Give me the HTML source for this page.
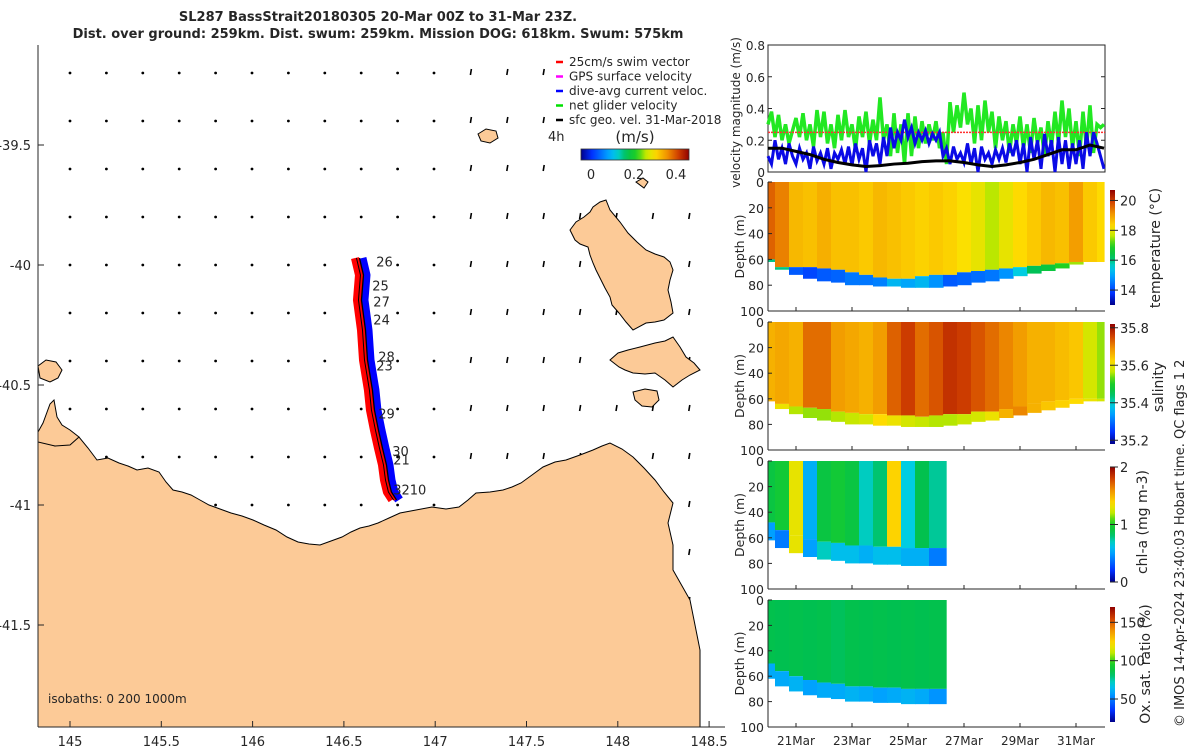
<!DOCTYPE html>
<html><head><meta charset="utf-8">
<style>
html,body{margin:0;padding:0;background:#fff;}
svg{display:block;font-family:"DejaVu Sans","Liberation Sans",sans-serif;}
text{fill:#262626;}
</style></head>
<body>
<svg id="fig" width="1200" height="750" viewBox="0 0 1200 750" xmlns="http://www.w3.org/2000/svg">
<defs>
  <clipPath id="mapclip"><rect x="38" y="40" width="690" height="687"/></clipPath>
</defs>
<g font-weight="bold" font-size="13" text-anchor="middle">
  <text x="378" y="21">SL287 BassStrait20180305 20-Mar 00Z to 31-Mar 23Z.</text>
  <text x="378" y="38">Dist. over ground: 259km. Dist. swum: 259km. Mission DOG: 618km. Swum: 575km</text>
</g>
<g id="map" clip-path="url(#mapclip)">
  <g id="vectors"></g>
  <path fill="#fcca97" stroke="#000" stroke-width="1"
   d="M30,443 L43,441 L55,446 L66,433 L79,437 L88,448 L97,460 L108,458 L119,463 L128,466 L137,470 L148,468 L159,472 L166,482 L173,490 L182,492 L191,495 L200,500 L209,505 L220,509 L231,513 L242,516 L253,520 L264,525 L276,530 L287,537 L298,542 L309,544 L320,545 L331,541 L342,537 L351,532 L360,528 L369,526 L378,523 L389,518 L400,513 L416,510 L432,507 L446,509 L459,507 L468,500 L476,493 L490,492 L503,490 L512,487 L521,483 L532,475 L543,467 L555,462 L566,460 L580,455 L593,450 L602,446 L610,443 L622,449 L633,457 L644,468 L655,480 L664,492 L673,503 L668,523 L673,545 L673,570 L690,600 L700,650 L700,760 L30,760 Z"/>
  <path fill="#fcca97" stroke="#000" stroke-width="1"
   d="M30,435 L38,432 L43,423 L50,404 L54,400 L57,417 L62,425 L70,430 L79,437 L70,445 L55,446 L38,442 Z"/>
  <path fill="#fcca97" stroke="#000" stroke-width="1"
   d="M38,366 L46,360 L56,362 L62,370 L58,378 L50,382 L40,378 Z"/>
  <path fill="#fcca97" stroke="#000" stroke-width="1"
   d="M606,200 L610,210 L620,222 L628,233 L637,242 L646,250 L655,254 L664,257 L670,262 L673,270 L670,280 L668,290 L671,302 L673,313 L664,320 L655,322 L646,323 L633,330 L626,322 L619,313 L612,305 L610,297 L605,288 L601,280 L596,270 L593,263 L590,255 L588,247 L580,244 L575,240 L570,230 L576,222 L584,217 L590,212 L593,207 L600,202 Z"/>
  <path fill="#fcca97" stroke="#000" stroke-width="1"
   d="M610,360 L618,353 L628,350 L640,347 L655,343 L665,341 L673,337 L680,347 L686,357 L694,363 L700,370 L690,375 L682,380 L673,387 L665,380 L655,373 L645,374 L633,373 L625,370 L619,367 Z"/>
  <path fill="#fcca97" stroke="#000" stroke-width="1"
   d="M633,392 L645,389 L657,391 L659,400 L652,407 L642,406 L635,400 Z"/>
  <path fill="#fcca97" stroke="#000" stroke-width="1"
   d="M478,134 L486,129 L496,131 L498,138 L490,143 L481,141 Z"/>
  <path fill="#fcca97" stroke="#000" stroke-width="1"
   d="M636,182 L643,178 L648,182 L644,188 Z"/>
  <g id="track"></g>
</g>
<g id="mapaxes"></g>
<g id="legend" font-size="12"></g>
<g id="panels"></g>
<text x="48" y="703" font-size="12">isobaths: 0   200  1000m</text>
<text transform="translate(1184,727) rotate(-90)" font-size="13">© IMOS 14-Apr-2024 23:40:03 Hobart time. QC flags 1  2</text>
</svg>
<script>
// ---------- DATA ----------
const lonTicks = [145, 145.5, 146, 146.5, 147, 147.5, 148, 148.5];
const latTicks = [-39.5, -40, -40.5, -41, -41.5];
const trackLon = [146.577,146.599,146.588,146.610,146.621,146.648,146.659,146.681,146.703,146.725,146.736,146.752,146.780];
const trackLat = [-39.971,-40.042,-40.146,-40.271,-40.396,-40.521,-40.604,-40.688,-40.763,-40.833,-40.896,-40.946,-40.979];
const dayLabels = ["26","25","27","24","28","23","29","30","21","3210"];
const dayLabelLon = [146.677,146.655,146.661,146.661,146.688,146.677,146.688,146.765,146.770,146.770];
const dayLabelLat = [-39.985,-40.085,-40.152,-40.227,-40.381,-40.418,-40.618,-40.776,-40.810,-40.935];

const velTicks = [0, 0.2, 0.4, 0.6, 0.8];
const dateTicks = ["21Mar","23Mar","25Mar","27Mar","29Mar","31Mar"];
const dateTickDays = [1,3,5,7,9,11];
const velGreen = [0.30,0.38,0.22,0.36,0.20,0.30,0.18,0.26, 0.34,0.22,0.37,0.20,0.30,0.16,0.39,0.22,
 0.38,0.18,0.30,0.15,0.36,0.20,0.39,0.22, 0.30,0.14,0.35,0.22,0.38,0.18,0.33,0.20,
 0.47,0.20,0.30,0.10,0.37,0.12,0.30,0.05, 0.37,0.10,0.35,0.15,0.32,0.18,0.30,0.20,
 0.32,0.15,0.25,0.05,0.44,0.25,0.42,0.28, 0.50,0.30,0.40,0.18,0.42,0.20,0.45,0.25,
 0.38,0.15,0.35,0.20,0.32,0.12,0.30,0.18, 0.35,0.15,0.30,0.12,0.34,0.18,0.28,0.10,
 0.32,0.16,0.38,0.18,0.45,0.22,0.40,0.15, 0.32,0.10,0.38,0.15,0.42,0.12,0.30,0.28,0.30];
const velBlue = [0.10,0.05,0.20,0.08,0.15,0.05,0.18,0.10, 0.05,0.15,0.08,0.12,0.02,0.16,0.07,0.12,
 0.05,0.15,0.02,0.12,0.08,0.14,0.05,0.16, 0.04,0.18,0.08,0.15,0.00,0.20,0.10,0.18,
 0.05,0.22,0.10,0.28,0.15,0.25,0.20,0.33, 0.22,0.28,0.18,0.25,0.20,0.26,0.18,0.24,
 0.20,0.25,0.10,0.15,0.05,0.16,0.08,0.12, 0.06,0.18,0.05,0.15,0.00,0.16,0.08,0.12,
 0.05,0.14,0.08,0.15,0.06,0.18,0.10,0.20, 0.05,0.18,0.00,0.22,0.08,0.20,0.02,0.24,
 0.10,0.20,0.00,0.22,0.05,0.20,0.02,0.18, 0.05,0.20,0.02,0.25,0.10,0.25,0.18,0.10,0.02];
const velBlack = [0.15,0.15,0.13,0.11,0.08,0.06,0.045,0.035,0.04,0.05,0.055,0.065,0.07,0.07,0.06,0.045,0.035,0.045,0.06,0.08,0.11,0.14,0.14,0.17,0.15];
const swimSpeed = 0.25;

const halfDays = [0,0.5,1,1.5,2,2.5,3,3.5,4,4.5,5,5.5,6,6.5,7,7.5,8,8.5,9,9.5,10,10.5,11,11.5,12];
const bottomDepth = [62,68,72,75,77,78,80,80,81,81,82,82,82,81,80,78,77,75,73,71,69,67,64,62,62];
const depthTicks = [0,20,40,60,80,100];

const tempUpper = [19.6,19.3,18.7,18.6,18.8,18.6,18.6,18.5,18.7,18.6,18.5,18.4,18.5,18.4,18.2,18.0,17.6,18.0,18.3,18.5,18.7,18.6,19.0,18.5,18.3];
const tempLower = [16.0,16.0,14.2,14.0,14.2,14.3,14.5,14.5,14.6,15.2,15.0,15.2,14.8,14.2,14.3,14.4,14.5,14.8,15.5,16.2,16.5,17.0,17.5,17.5,17.5];
const tempMixed = [60,66,66,66,67,68,70,72,74,75,75,73,72,72,70,69,68,67,66,65,64,63,62,62,62];
const tempTicks = [14,16,18,20];

const salUpper = [35.66,35.67,35.66,35.72,35.72,35.68,35.67,35.66,35.68,35.73,35.76,35.72,35.74,35.77,35.76,35.74,35.72,35.70,35.68,35.66,35.66,35.65,35.64,35.58,35.55];
const salLower = [35.62,35.60,35.56,35.55,35.55,35.56,35.57,35.58,35.62,35.60,35.58,35.57,35.56,35.56,35.57,35.58,35.60,35.66,35.70,35.66,35.64,35.63,35.62,35.60,35.58];
const salMixed = [62,64,66,67,68,70,71,72,72,73,73,74,73,72,72,70,70,68,66,64,62,61,60,60,60];
const salTicks = [35.2,35.4,35.6,35.8];

const chlDays = [0,0.5,1,1.5,2,2.5,3,3.5,4,4.5,5,5.5,6];
const chlUpper = [0.9,0.95,1.3,0.55,0.9,0.95,0.9,0.7,0.8,1.4,0.65,0.85,0.75];
const chlLower = [0.5,0.4,1.3,0.5,0.7,0.6,0.6,0.55,0.6,0.6,0.55,0.55,0.4];
const chlTicks = [0,1,2];

const oxUpper = [84,83,84,83,84,82,84,83,84,83,84,83,84];
const oxLower = [60,60,62,58,60,60,62,60,58,60,62,60,55];
const oxTicks = [50,100,150];

// ---------- HELPERS ----------
const NS = "http://www.w3.org/2000/svg";
const svg = document.getElementById("fig");
function mk(tag, attrs, parent){ const e=document.createElementNS(NS,tag); for(const k in attrs) e.setAttribute(k,attrs[k]); (parent||svg).appendChild(e); return e; }
const cmStops=[[0,[0,0,138]],[0.1,[0,48,255]],[0.25,[0,160,255]],[0.33,[0,208,224]],[0.42,[0,192,80]],[0.52,[32,208,32]],[0.6,[192,232,0]],[0.68,[255,224,0]],[0.8,[240,144,0]],[0.9,[208,64,0]],[1,[144,0,0]]];
function cmap(t){ t=Math.max(0,Math.min(1,t)); for(let i=1;i<cmStops.length;i++){ if(t<=cmStops[i][0]){ const a=cmStops[i-1],b=cmStops[i]; const f=(t-a[0])/(b[0]-a[0]); const c=a[1].map((v,j)=>Math.round(v+(b[1][j]-v)*f)); return `rgb(${c[0]},${c[1]},${c[2]})`; } } return "rgb(144,0,0)"; }
function gradient(id){ const defs=svg.querySelector("defs"); const g=mk("linearGradient",{id:id,x1:0,y1:1,x2:0,y2:0},defs); for(let i=0;i<=20;i++) mk("stop",{offset:i/20,"stop-color":cmap(i/20)},g); return g; }
function hgradient(id){ const defs=svg.querySelector("defs"); const g=mk("linearGradient",{id:id,x1:0,y1:0,x2:1,y2:0},defs); for(let i=0;i<=20;i++) mk("stop",{offset:i/20,"stop-color":cmap(i/20)},g); return g; }
gradient("cbv"); hgradient("cbh");

// ---------- MAP ----------
const lonX = lon => 70 + (lon-145)*182.6;
const latY = lat => 145 + (-39.5-lat)*240;
const mapAxes = document.getElementById("mapaxes");
mk("line",{x1:38,y1:45,x2:38,y2:727,stroke:"#262626","stroke-width":1},mapAxes);
mk("line",{x1:38,y1:727,x2:725,y2:727,stroke:"#262626","stroke-width":1},mapAxes);
lonTicks.forEach(v=>{
  const x=lonX(v);
  mk("line",{x1:x,y1:727,x2:x,y2:721,stroke:"#262626"},mapAxes);
  const t=mk("text",{x:x,y:746,"font-size":13,"text-anchor":"middle"},mapAxes); t.textContent=v;
  
  
});
latTicks.forEach(v=>{
  const y=latY(v);
  mk("line",{x1:38,y1:y,x2:44,y2:y,stroke:"#262626"},mapAxes);
  const t=mk("text",{x:31,y:y+5,"font-size":13,"text-anchor":"end"},mapAxes); t.textContent=v;
  
  
});
const vec=document.getElementById("vectors");
for(let r=0;r<14;r++){ for(let c=0;c<18;c++){
  const x=70+c*36.4, y=73+r*48;
  if(x>545 && y<185) continue;
  if(x<440){ mk("circle",{cx:x,cy:y,r:1.4,fill:"#000"},vec); }
  else { mk("line",{x1:x,y1:y+2,x2:x+1,y2:y-4,stroke:"#000","stroke-width":1.6},vec); }
}}
const trk=document.getElementById("track");
const pts=(dx)=>trackLon.map((v,i)=>(lonX(v)+dx)+","+latY(trackLat[i])).join(" ");
const red=mk("polyline",{points:pts(-3),fill:"none",stroke:"#ff0000","stroke-width":8,"stroke-linejoin":"round"},trk);


const blue=mk("polyline",{points:pts(4),fill:"none",stroke:"#0000ff","stroke-width":9,"stroke-linejoin":"round"},trk);


mk("polyline",{points:pts(0),fill:"none",stroke:"#ff0000","stroke-width":3},trk);
const blk=mk("polyline",{points:pts(1.5),fill:"none",stroke:"#000","stroke-width":1.3},trk);


mk("polyline",{points:pts(-1.5),fill:"none",stroke:"#000","stroke-width":1},trk);
dayLabels.forEach((s,i)=>{
  const t=mk("text",{x:lonX(dayLabelLon[i]),y:latY(dayLabelLat[i])+5,"font-size":13},trk); t.textContent=s;
  
  
});
const lg=document.getElementById("legend");
const legItems=[["#ff0000","25cm/s swim vector"],["#ff00ff","GPS surface velocity"],["#0000ff","dive-avg current veloc."],["#00e000","net glider velocity"],["#000000","sfc geo. vel. 31-Mar-2018"]];
legItems.forEach((it,i)=>{
  const y=62+i*14.5;
  mk("line",{x1:556,y1:y,x2:563,y2:y,stroke:it[0],"stroke-width":2.5},lg);
  const t=mk("text",{x:569,y:y+4},lg); t.textContent=it[1];
  
  
});
{ mk("text",{x:548,y:141,"font-size":13},lg).textContent="4h";
  mk("text",{x:635,y:142,"font-size":15,"text-anchor":"middle"},lg).textContent="(m/s)";
  const cb=mk("rect",{x:581,y:149,width:108,height:11,fill:"url(#cbh)",stroke:"#333","stroke-width":0.8},lg);
  
  
  [[0,591],[0.2,634],[0.4,676]].forEach(p=>{ mk("text",{x:p[1],y:179,"font-size":13,"text-anchor":"middle"},lg).textContent=p[0]; });
}

// ---------- PANELS ----------
const P=document.getElementById("panels");
const X0=768, X1=1105, PXD=28;
const dayX = d => X0 + d*PXD;
const vTop=45, vBot=172;
const vY = v => vBot - v*(vBot-vTop)/0.8;
mk("rect",{x:X0,y:vTop,width:X1-X0,height:vBot-vTop,fill:"#fff",stroke:"#262626"},P);
velTicks.forEach(v=>{
  mk("line",{x1:X0,y1:vY(v),x2:X0+4,y2:vY(v),stroke:"#262626"},P);
  mk("line",{x1:X1,y1:vY(v),x2:X1-4,y2:vY(v),stroke:"#262626"},P);
  const t=mk("text",{x:X0-3,y:vY(v)+5,"font-size":12,"text-anchor":"end"},P); t.textContent=v===0?"0":v.toFixed(1);
  
  
});
{ const t=mk("text",{transform:`translate(740,${(vTop+vBot)/2+4}) rotate(-90)`,"font-size":12,"text-anchor":"middle"},P); t.textContent="velocity magnitude (m/s)";
  
   }
const ln=(arr,step)=>arr.map((v,i)=>dayX(i*step)+","+vY(v)).join(" ");
const g1=mk("polyline",{points:ln(velGreen,0.125),fill:"none",stroke:"#22e822","stroke-width":3.5},P);


const sw=mk("line",{x1:X0,y1:vY(swimSpeed),x2:X1,y2:vY(swimSpeed),stroke:"#ff3030","stroke-width":1.5,"stroke-dasharray":"2,1"},P);


const b1=mk("polyline",{points:ln(velBlue,0.125),fill:"none",stroke:"#0a0ae6","stroke-width":3},P);


const k1=mk("polyline",{points:ln(velBlack,0.5),fill:"none",stroke:"#000","stroke-width":3},P);



function depthPanel(name, top, bot, days, upper, lower, mixed, vmin, vmax, ticks, tickFmt, cbTop, cbBot, showX){
  const g=mk("g",{},P);
  
  
  const dY = d => top + d*(bot-top)/100;
  const norm = v => (v-vmin)/(vmax-vmin);
  const lastDay = days[days.length-1];
  const endDay = lastDay>=12 ? 12 : lastDay+0.36;
  days.forEach((d,i)=>{
    const xa=dayX(Math.max(0,d-0.25));
    const xe = (i===days.length-1) ? dayX(endDay) : dayX(Math.min(endDay,d+0.25));
    const r1=mk("rect",{x:xa,y:dY(0),width:xe-xa+0.6,height:dY(mixed[i])-dY(0),fill:cmap(norm(upper[i]))},g);
    
    
    const r2=mk("rect",{x:xa,y:dY(mixed[i]),width:xe-xa+0.6,height:Math.max(0,dY(bottomDepth[i])-dY(mixed[i])),fill:cmap(norm(lower[i]))},g);
    
    
  });
  mk("line",{x1:X0,y1:top,x2:X0,y2:bot,stroke:"#262626"},g);
  mk("line",{x1:X0,y1:bot,x2:X1,y2:bot,stroke:"#262626"},g);
  depthTicks.forEach(v=>{
    mk("line",{x1:X0,y1:dY(v),x2:X0+4,y2:dY(v),stroke:"#262626"},g);
    const t=mk("text",{x:X0-4,y:dY(v)+5,"font-size":12.5,"text-anchor":"end"},g); t.textContent=v;
    
    
  });
  dateTickDays.forEach((d,i)=>{
    mk("line",{x1:dayX(d),y1:bot,x2:dayX(d),y2:bot-4,stroke:"#262626"},g);
    if(showX){ const t=mk("text",{x:dayX(d),y:bot+18,"font-size":12,"text-anchor":"middle"},g); t.textContent=dateTicks[i];
      
       }
  });
  const yl=mk("text",{transform:`translate(744,${(top+bot)/2}) rotate(-90)`,"font-size":12.5,"text-anchor":"middle"},g); yl.textContent="Depth (m)";
  
  
  const cb=mk("rect",{x:1110,y:cbTop,width:5,height:cbBot-cbTop,fill:"url(#cbv)"},g);
  
  
  ticks.forEach(v=>{
    const y=cbBot-(v-vmin)/(vmax-vmin)*(cbBot-cbTop);
    mk("line",{x1:1110,y1:y,x2:1118,y2:y,stroke:"#262626"},g);
    const t=mk("text",{x:1120,y:y+5,"font-size":13},g); t.textContent=tickFmt(v);
    
    
  });
  return g;
}
depthPanel("temperature-panel",182,311,halfDays,tempUpper,tempLower,tempMixed,13.0,20.7,tempTicks,v=>v,190,305,false);
depthPanel("salinity-panel",322,450,halfDays,salUpper,salLower,salMixed,35.18,35.82,salTicks,v=>v.toFixed(1),324,444,false);
depthPanel("chl-panel",461,589,chlDays,chlUpper,chlLower,bottomDepth.map(d=>d-14),0,2,chlTicks,v=>v,467,582,false);
depthPanel("oxygen-panel",600,727,chlDays,oxUpper,oxLower,bottomDepth.map(d=>d-12),20,170,oxTicks,v=>v,607,722,true);
[["temperature (°C)",1160,248],["salinity",1163,387],["chl-a (mg m-3)",1147,522],["Ox. sat. ratio (%)",1150,664]].forEach(a=>{
  const t=mk("text",{transform:`translate(${a[1]},${a[2]}) rotate(-90)`,"font-size":14,"text-anchor":"middle"},P); t.textContent=a[0];
  
  
});
</script>
</body></html>
